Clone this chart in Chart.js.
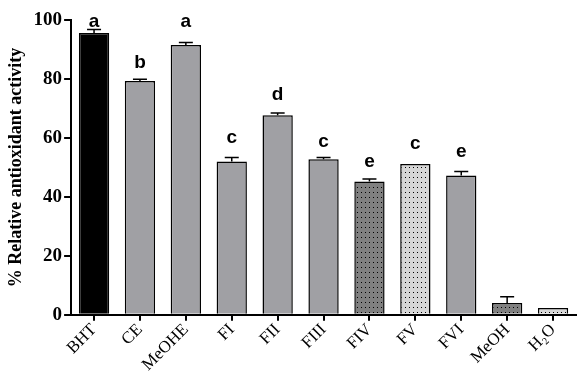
<!DOCTYPE html>
<html>
<head>
<meta charset="utf-8">
<script src="https://cdn.jsdelivr.net/npm/chart.js@4"></script>
<style>
  html, body { margin: 0; padding: 0; background: #fff; }
  #wrap { width: 583px; height: 374px; }
</style>
</head>
<body>
<div id="wrap"><canvas id="myChart" width="583" height="374"></canvas></div>
<script>
// data
var categories = ['BHT', 'CE', 'MeOHE', 'FI', 'FII', 'FIII', 'FIV', 'FV', 'FVI', 'MeOH', 'H\u2082O'];
var activity = [95.6, 79.3, 91.5, 52.0, 67.7, 52.8, 45.2, 51.2, 47.3, 4.0, 2.3];
var errors = [1.2, 0.6, 0.9, 1.4, 0.8, 0.6, 0.9, 0, 1.3, 2.1, 0];
var letters = ['a', 'b', 'a', 'c', 'd', 'c', 'e', 'c', 'e', '', ''];
// height (in % units) where each letter sits
var letterAt = [97.6, 83.7, 97.6, 58.2, 72.8, 56.8, 50.0, 56.1, 53.4, 0, 0];
var yTicks = [0, 20, 40, 60, 80, 100];

// dotted fill for some bars
function dots(bg) {
    var c = document.createElement('canvas');
    c.width = 4; c.height = 5;
    var g = c.getContext('2d');
    g.fillStyle = bg;
    g.fillRect(0, 0, 4, 5);
    g.fillStyle = '#000';
    g.fillRect(1, 2, 1, 1);
    return g.createPattern(c, 'repeat');
}
var gray = '#a0a0a4';
var fills = ['#000000', gray, gray, gray, gray, gray,
    dots('#808080'), dots('#d6d6d6'), gray, dots('#808080'), dots('#d6d6d6')];

var extras = {
    id: 'extras',
    afterDatasetsDraw: function(chart) {
        var ctx = chart.ctx;
        var meta = chart.getDatasetMeta(0);
        var y = chart.scales.y;
        ctx.save();
        ctx.strokeStyle = '#000';
        ctx.lineWidth = 1.5;
        meta.data.forEach(function(bar, i) {
            var top = y.getPixelForValue(activity[i] + errors[i]);
            if (errors[i] > 0) {
                ctx.beginPath();
                ctx.moveTo(bar.x, bar.y);
                ctx.lineTo(bar.x, top);
                ctx.moveTo(bar.x - 7, top);
                ctx.lineTo(bar.x + 7, top);
                ctx.stroke();
            }
            if (letters[i]) {
                ctx.fillStyle = '#000';
                ctx.font = 'bold 19px "Liberation Sans", Arial, sans-serif';
                ctx.textAlign = 'center';
                ctx.textBaseline = 'alphabetic';
                ctx.fillText(letters[i], bar.x, y.getPixelForValue(letterAt[i]));
            }
        });
        ctx.restore();
    }
};

var ctx = document.getElementById('myChart').getContext('2d');
var myChart = new Chart(ctx, {
    type: 'bar',
    data: {
        labels: categories,
        datasets: [{
            data: activity,
            backgroundColor: fills,
            borderColor: '#000',
            borderWidth: 1.5,
            borderSkipped: 'bottom',
            barPercentage: 0.66,
            categoryPercentage: 1.0
        }]
    },
    options: {
        responsive: false,
        animation: false,
        layout: { padding: { top: 20, right: 7, left: 6 } },
        plugins: { legend: { display: false }, tooltip: { enabled: false } },
        scales: {
            x: {
                grid: { display: true, drawOnChartArea: false, offset: false, color: '#000', lineWidth: 2, tickLength: 6 },
                border: { color: '#000', width: 2 },
                ticks: {
                    color: '#000',
                    minRotation: 45, maxRotation: 45,
                    padding: -1,
                    font: { family: '"Liberation Serif", "Times New Roman", serif', size: 17 }
                }
            },
            y: {
                min: 0, max: 100,
                afterBuildTicks: function(axis) {
                    axis.ticks = yTicks.map(function(v) { return { value: v }; });
                },
                grid: { display: true, drawOnChartArea: false, color: '#000', lineWidth: 2, tickLength: 7 },
                border: { color: '#000', width: 2 },
                ticks: {
                    color: '#000',
                    padding: 2,
                    font: { family: '"Liberation Serif", "Times New Roman", serif', size: 19, weight: 'bold' }
                },
                title: {
                    display: true,
                    text: '% Relative antioxidant activity',
                    color: '#000',
                    padding: { top: 0, bottom: 4 },
                    font: { family: '"Liberation Serif", "Times New Roman", serif', size: 18, weight: 'bold' }
                }
            }
        }
    },
    plugins: [extras]
});
</script>
</body>
</html>
